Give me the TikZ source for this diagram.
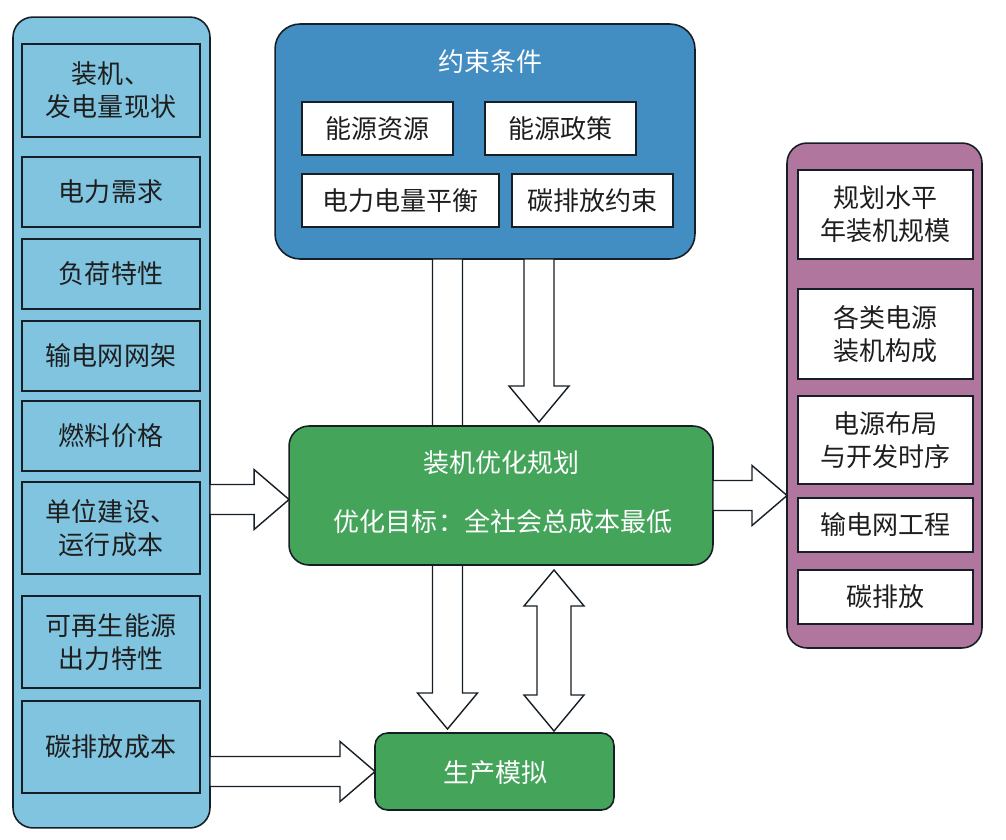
\documentclass[tikz,border=0pt]{standalone}
\usepackage{fontspec}
\setmainfont{Noto Sans CJK SC}
\usetikzlibrary{calc}

\definecolor{inputblue}{RGB}{128,196,224}
\definecolor{limitblue}{RGB}{66,141,194}
\definecolor{plangreen}{RGB}{67,164,90}
\definecolor{outpurple}{RGB}{176,118,158}
\definecolor{edgedark}{RGB}{22,30,38}
\definecolor{textdark}{RGB}{30,30,30}

\tikzset{
  panel/.style={draw=edgedark, line width=0.9pt, inner sep=0pt, outer sep=0pt},
  item/.style={draw=edgedark, line width=0.9pt, inner sep=0pt, outer sep=0pt,
    align=center, text=textdark, font=\fontsize{14.8pt}{18.8pt}\selectfont},
  headline/.style={text=white, inner sep=0pt, font=\fontsize{14.8pt}{18.8pt}\selectfont},
  fatarrow/.style={draw=edgedark, fill=white, line width=0.8pt, line join=miter},
}

% block arrows: #1 = start, #2 = tip
\newcommand{\arrowright}[2]{%
  \draw[fatarrow] ($(#1)+(0,-15)$) -- ($(#2)+(-35,-15)$) -- ($(#2)+(-35,-30)$) -- (#2)
    -- ($(#2)+(-35,30)$) -- ($(#2)+(-35,15)$) -- ($(#1)+(0,15)$) -- cycle;}
\newcommand{\arrowdown}[2]{%
  \draw[fatarrow] ($(#1)+(-15,0)$) -- ($(#2)+(-15,-36)$) -- ($(#2)+(-30,-36)$) -- (#2)
    -- ($(#2)+(30,-36)$) -- ($(#2)+(15,-36)$) -- ($(#1)+(15,0)$) -- cycle;}
\newcommand{\arrowboth}[2]{%
  \draw[fatarrow] (#1) -- ($(#1)+(30,36)$) -- ($(#1)+(17,36)$) -- ($(#2)+(17,-36)$)
    -- ($(#2)+(30,-36)$) -- (#2) -- ($(#2)+(-30,-36)$) -- ($(#2)+(-17,-36)$)
    -- ($(#1)+(-17,36)$) -- ($(#1)+(-30,36)$) -- cycle;}

\begin{document}
\begin{tikzpicture}[x=0.02cm, y=-0.02cm]
    \useasboundingbox (0,0) rectangle (1006,839);

    % input panel
    \node[panel, fill=inputblue, rounded corners=0.4cm, minimum width=3.94cm, minimum height=16.22cm] (lp) at (111.5,422.5) {};
    \node[item, fill=inputblue, minimum width=3.56cm, minimum height=1.86cm] (in1) at (111,90.5) {装机、\\发电量现状};
    \node[item, fill=inputblue, minimum width=3.56cm, minimum height=1.40cm] (in2) at (111,192) {电力需求};
    \node[item, fill=inputblue, minimum width=3.56cm, minimum height=1.40cm] (in3) at (111,274) {负荷特性};
    \node[item, fill=inputblue, minimum width=3.56cm, minimum height=1.40cm] (in4) at (111,356) {输电网网架};
    \node[item, fill=inputblue, minimum width=3.56cm, minimum height=1.40cm] (in5) at (111,436) {燃料价格};
    \node[item, fill=inputblue, minimum width=3.56cm, minimum height=1.84cm] (in6) at (111,528) {单位建设、\\运行成本};
    \node[item, fill=inputblue, minimum width=3.56cm, minimum height=1.84cm] (in7) at (111,642) {可再生能源\\出力特性};
    \node[item, fill=inputblue, minimum width=3.56cm, minimum height=1.84cm] (in8) at (111,747) {碳排放成本};

    % constraints panel
    \node[panel, fill=limitblue, rounded corners=0.5cm, minimum width=8.4cm, minimum height=4.7cm] (tp) at (485,141.5) {};
    \node[headline] (tpttl) at (490,62) {约束条件};
    \node[item, fill=white, minimum width=3.02cm, minimum height=1.06cm] (lim1) at (377.5,128.5) {能源资源};
    \node[item, fill=white, minimum width=3.02cm, minimum height=1.06cm] (lim2) at (560.5,128.5) {能源政策};
    \node[item, fill=white, minimum width=3.94cm, minimum height=1.06cm] (lim3) at (400.5,200.5) {电力电量平衡};
    \node[item, fill=white, minimum width=3.22cm, minimum height=1.06cm] (lim4) at (592.5,200.5) {碳排放约束};

    % output panel
    \node[panel, fill=outpurple, rounded corners=0.4cm, minimum width=3.9cm, minimum height=10.1cm] (rp) at (884.5,395.5) {};
    \node[item, fill=white, minimum width=3.5cm, minimum height=1.78cm] (out1) at (885.5,214.5) {规划水平\\年装机规模};
    \node[item, fill=white, minimum width=3.5cm, minimum height=1.80cm] (out2) at (885.5,334) {各类电源\\装机构成};
    \node[item, fill=white, minimum width=3.5cm, minimum height=1.76cm] (out3) at (885.5,440) {电源布局\\与开发时序};
    \node[item, fill=white, minimum width=3.5cm, minimum height=1.08cm] (out4) at (885.5,525) {输电网工程};
    \node[item, fill=white, minimum width=3.5cm, minimum height=1.08cm] (out5) at (885.5,597) {碳排放};

    % production simulation
    \node[panel, fill=plangreen, rounded corners=0.25cm, minimum width=4.78cm, minimum height=1.54cm] (sim) at (494.5,771.5) {};
    \node[headline] (simttl) at (495,773) {生产模拟};

    % long arrow runs behind the planning box
    \coordinate (tipB) at ($(sim.north)+(-47,-4)$);
    \arrowdown{tp.south -| tipB}{tipB}

    % planning box
    \node[panel, fill=plangreen, rounded corners=0.4cm, minimum width=8.48cm, minimum height=2.78cm] (main) at (501,495.5) {};
    \node[headline] (mainttl) at (501,463) {装机优化规划};
    \node[headline] (mainobj) at (503,522) {优化目标：全社会总成本最低};

    \coordinate (tipA) at ($(main.north)+(38,-4)$);
    \arrowdown{tp.south -| tipA}{tipA}

    \coordinate (tipC) at ($(main.west)+(0,4)$);
    \arrowright{lp.east |- tipC}{tipC}
    \arrowright{lp.east |- sim.west}{sim.west}
    \arrowright{main.east}{rp.west |- main.east}

    \coordinate (dtop) at ($(main.south)+(53,5)$);
    \coordinate (dbot) at ($(sim.north)+(60,-2)$);
    \arrowboth{dtop}{dbot -| dtop}
\end{tikzpicture}
\end{document}
